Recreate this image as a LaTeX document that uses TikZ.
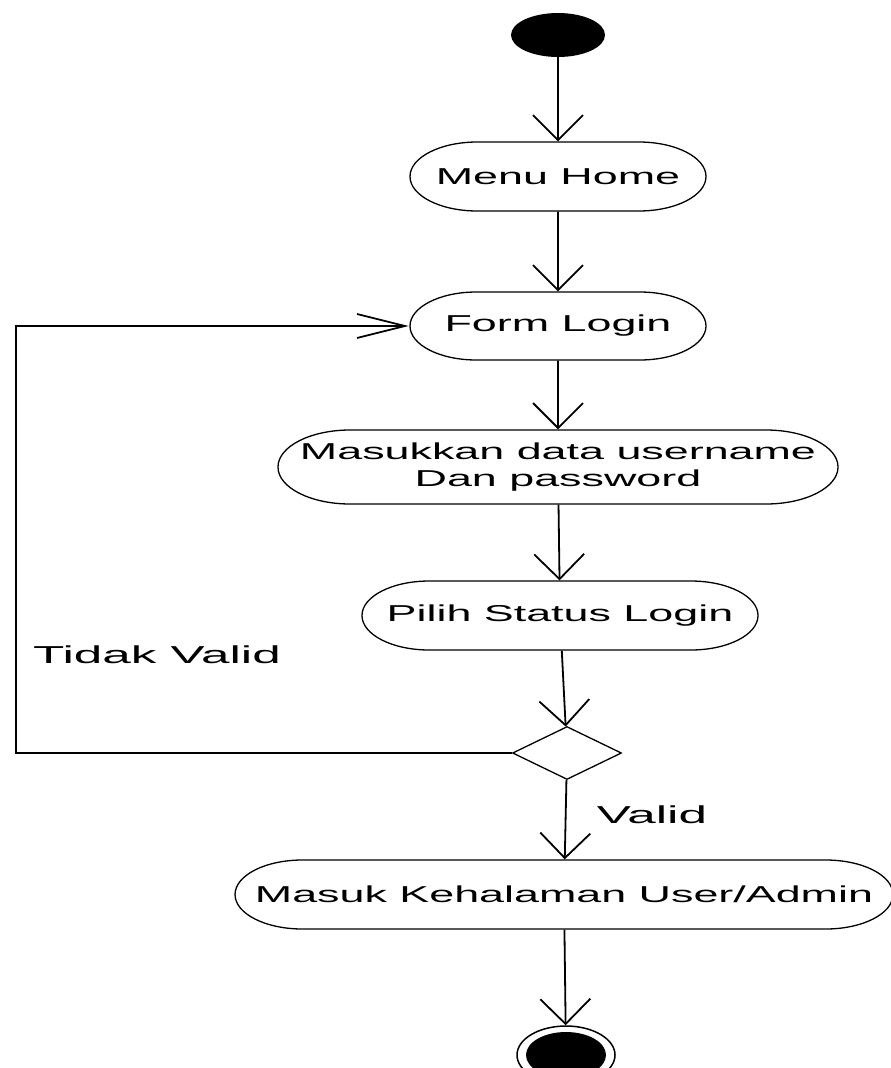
\documentclass[tikz,border=0pt]{standalone}
\usepackage{fontspec}
\setmainfont{Liberation Sans}
\usetikzlibrary{shapes.geometric,shapes.misc,arrows.meta}
\begin{document}
\begin{tikzpicture}[x=1pt,y=1pt,
		act/.style={draw, line width=1.3pt, rounded rectangle, xscale=1.95, minimum height=69pt, inner sep=0pt, align=center, font=\fontsize{23}{27.5}\selectfont},
		lbl/.style={xscale=2.09, inner sep=0pt, font=\fontsize{24.5}{29}\selectfont},
		flow/.style={line width=1.8pt, -{Straight Barb[length=25pt,width=50pt]}},
		back/.style={line width=1.8pt, -{Straight Barb[length=48pt,width=24pt]}}]
		\useasboundingbox (0,0) rectangle (891,-1068);
		% start / end
		\node[ellipse, fill, minimum width=94pt, minimum height=44pt, inner sep=0pt] (start) at (558,-35) {};
		\node[ellipse, draw, line width=1.5pt, minimum width=98pt, minimum height=58pt, inner sep=0pt] (endo) at (566,-1055) {};
		\node[ellipse, fill, minimum width=80pt, minimum height=46pt, inner sep=0pt] (endi) at (endo) {};
		% activities
		\node[act, minimum width=151.8pt] (home) at (558,-176.5) {Menu Home};
		\node[act, minimum width=151.8pt, minimum height=68pt] (form) at (558,-326) {Form Login};
		\node[act, minimum width=287.2pt, minimum height=74pt] (input) at (558,-467) {Masukkan data username\\Dan password};
		\node[act, minimum width=203.1pt] (status) at (560,-615.5) {Pilih Status Login};
		\node[diamond, draw, line width=1.3pt, minimum width=109pt, minimum height=53pt, inner sep=0pt] (dec) at (567,-753) {};
		\node[act, minimum width=337.4pt] (user) at (564,-894.5) {Masuk Kehalaman User/Admin};
		\node[lbl] (valid) at (652,-815) {Valid};
		\node[lbl] (tidak) at (157,-655) {Tidak Valid};
		%
		\draw[flow] (start) -- (home);
		\draw[flow] (home) -- (form);
		\draw[flow] (form) -- (input);
		\draw[flow] (input) -- (status);
		\draw[flow] (status) -- (dec);
		\draw[flow] (dec) -- (user);
		\draw[flow] (user) -- (endo);
		\coordinate (lp) at (16,-753);
		\draw[back] (dec.west) -- (lp) |- (form.west);
	\end{tikzpicture}
\end{document}
